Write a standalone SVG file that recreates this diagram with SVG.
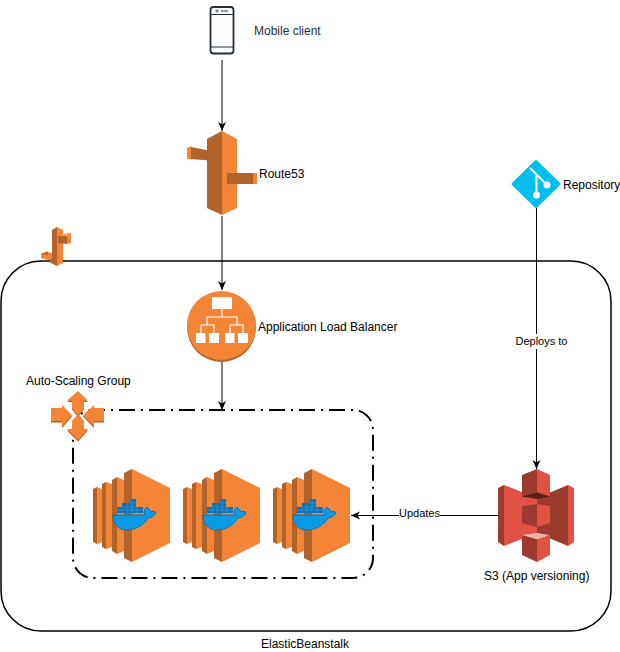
<svg xmlns="http://www.w3.org/2000/svg" width="620" height="652" viewBox="0 0 620 652">
<style>
text{font-family:"Liberation Sans",Arial,sans-serif;font-size:12px;fill:#000}
.line{fill:none;stroke:#000;stroke-width:1}
.od{fill:#b0632a}
.ol{fill:#f58536}
.rd{fill:#9c3a2d}
.rl{fill:#e05243}
.small{font-size:11px}
</style>
<defs>
<marker id="arr" markerUnits="userSpaceOnUse" markerWidth="10" markerHeight="10" refX="9" refY="5" orient="auto"><path d="M0 1L9 5L0 9L2.500 5Z" fill="#000"/></marker>
<g id="ecs">
<path class="od" d="M0 20L4 18V75L0 73Z"/><path class="ol" d="M4 18L9 20V73L4 75Z"/>
<path class="od" d="M9 15L13 13V80L9 78Z"/><path class="ol" d="M13 13L19 15V78L13 80Z"/>
<path class="od" d="M19 11L24 8V85L19 82Z"/><path class="ol" d="M24 8L31 11V82L24 85Z"/>
<path class="od" d="M31 4L39 0V93L31 89Z"/><path class="ol" d="M39 0L77 19V74L39 93Z"/>
<path d="M24 44V38H29V34H37V30H43V38H50V44Z" fill="#0b72b8"/>
<path d="M24 41H50M29 38V44M34 34V44M39 30V44M44 38V44M29 38H43M37 34H43" fill="none" stroke="#3f9fdc" stroke-width=".6"/>
<path d="M20 46H52C50 42 52 39 54 38C56 40 58 42 58 43C60 42 62 42 63 44C61 47 58 49 55 49C50 57 42 61 33 61C25 61 20 54 20 46Z" fill="#0a9be6" stroke="#0a72b5" stroke-width="1"/>
</g>
</defs>
<g id="connectors">
<path class="line" marker-end="url(#arr)" d="M222 60V131"/>
<path class="line" marker-end="url(#arr)" d="M222 216V290"/>
<path class="line" marker-end="url(#arr)" d="M222 362V410"/>
<path class="line" marker-end="url(#arr)" d="M536.500 208V469"/>
<path class="line" marker-end="url(#arr)" d="M498 515.500H351"/>
<rect x="514" y="334" width="55" height="15" fill="#fff"/>
<text class="small" x="541.500" y="345" text-anchor="middle">Deploys to</text>
<rect x="399" y="508" width="41" height="13" fill="#fff"/>
<text class="small" x="419.500" y="517" text-anchor="middle">Updates</text>
</g>
<g id="elastic-beanstalk">
<rect x="1" y="261" width="610" height="370" rx="40" fill="none" stroke="#000" stroke-width="1.500"/>
<text x="305" y="648" text-anchor="middle">ElasticBeanstalk</text>
</g>
<g id="beanstalk-icon">
<path class="ol" d="M41 254L48 251V260L41 258Z"/>
<path class="od" d="M41 254L46 252L52 253L48 255Z"/>
<path class="ol" d="M48 253H52V260H48Z"/>
<path class="od" d="M52 230L57 227V266L49 262L52 258Z"/>
<path class="ol" d="M57 227L63 230V263L57 266Z"/>
<path class="od" d="M58 236H67V244L58 243Z"/>
<path class="ol" d="M67 234L71 233V243L67 244Z"/>
<path d="M60 236L67 233L71 233L67 236Z" fill="#f8a36a"/>
</g>
<g id="auto-scaling-group">
<rect x="73" y="410" width="300" height="168" rx="20" fill="none" stroke="#000" stroke-width="2" stroke-dasharray="16 6 2 6" stroke-dashoffset="4"/>
<text x="26" y="385">Auto-Scaling Group</text>
<g>
<path class="od" d="M78 392.500L88 402H84V409.500L79 416H77L72 409.500V402H67Z"/>
<path class="od" d="M78 441.500L88 430.500H84V422.500L79 416.500H77L72 422.500V430.500H67Z"/>
<path class="od" d="M51 409.500H62V406.500L72 416.500L62 428V422.500H51Z"/>
<path class="od" d="M104 409.500H94V406.500L83 416.500L94 428V422.500H104Z"/>
<path class="ol" d="M78 391L88 400.500H84V408L79 414.500H77L72 408V400.500H67Z"/>
<path class="ol" d="M78 440L88 429H84V421L79 415H77L72 421V429H67Z"/>
<path class="ol" d="M51 408H62V405L72 415L62 426.500V421H51Z"/>
<path class="ol" d="M104 408H94V405L83 415L94 426.500V421H104Z"/>
</g>
</g>
<g id="mobile-client">
<rect x="210.500" y="7" width="23" height="46.500" rx="3" fill="#fff" stroke="#232f3e" stroke-width="1.800"/>
<path d="M211 14.500H233M211 47H233" fill="none" stroke="#232f3e" stroke-width="1"/>
<circle cx="217" cy="11" r="1.100" fill="none" stroke="#232f3e" stroke-width=".8"/>
<path d="M221 11H228" stroke="#232f3e" stroke-width="1"/>
<text x="254" y="35" style="fill:#232f3e">Mobile client</text>
</g>
<g id="route53">
<path class="od" d="M222 131L207 139V208L222 215Z"/>
<path class="ol" d="M222 131L237 139V208L222 215Z"/>
<path class="od" d="M191 147L216 152V161L191 159Z"/>
<path class="ol" d="M187 148L191 146V159H187Z"/>
<path class="od" d="M227 173H253V184H227Z"/>
<path class="ol" d="M253 173H257V184H253Z"/>
<text x="259" y="178">Route53</text>
</g>
<g id="load-balancer">
<circle class="od" cx="221.500" cy="327.500" r="34.500"/>
<circle class="ol" cx="221.500" cy="325.500" r="34.500"/>
<path d="M222 309V317M207 325V317H237V325M201 333V325H214V333M230 333V325H243V333" fill="none" stroke="#fff" stroke-width="1.200"/>
<rect x="212" y="297" width="20" height="12" fill="#fff"/>
<rect x="196" y="333" width="9.500" height="10" fill="#fff"/>
<rect x="209" y="333" width="10" height="10" fill="#fff"/>
<rect x="225" y="333" width="9.500" height="10" fill="#fff"/>
<rect x="238" y="333" width="10" height="10" fill="#fff"/>
<text x="258" y="331">Application Load Balancer</text>
</g>
<g id="ecs-1"><use href="#ecs" x="93" y="469"/></g>
<g id="ecs-2"><use href="#ecs" x="183" y="469"/></g>
<g id="ecs-3"><use href="#ecs" x="273" y="469"/></g>
<g id="s3">
<path class="rd" d="M498 488L504 485V546L498 542Z"/>
<path class="rl" d="M504 485L537 498V533L504 546Z"/>
<path class="rd" d="M568 485L537 498V533L568 546Z"/>
<path class="rl" d="M574 488L568 485V546L574 542Z"/>
<path class="rd" d="M522 506L537 504V527L522 523Z"/>
<path class="rl" d="M550 506L537 504V527L550 523Z"/>
<path class="rd" d="M537 469L522 475V497L537 492Z"/>
<path class="rl" d="M537 469L550 475V497L537 492Z"/>
<path d="M522 496.500L537 492L550 496.500L537 499Z" fill="#5e1f18"/>
<path class="rd" d="M522 535L537 539V562L522 555Z"/>
<path class="rl" d="M550 535L537 539V562L550 555Z"/>
<path d="M522 535L537 533L550 535L537 539Z" fill="#f2b0a9"/>
<text x="484" y="580">S3 (App versioning)</text>
</g>
<g id="repository">
<path d="M536 161.500L559 184L536 206.500L513 184Z" fill="#00bfef" stroke="#00bfef" stroke-width="3" stroke-linejoin="round"/>
<path d="M530 168L547 185M536.500 175V195" fill="none" stroke="#fff" stroke-width="2"/>
<circle cx="536.500" cy="195" r="3.500" fill="#fff"/>
<circle cx="547" cy="185" r="3.500" fill="#fff"/>
<text x="563" y="189">Repository</text>
</g>
</svg>
